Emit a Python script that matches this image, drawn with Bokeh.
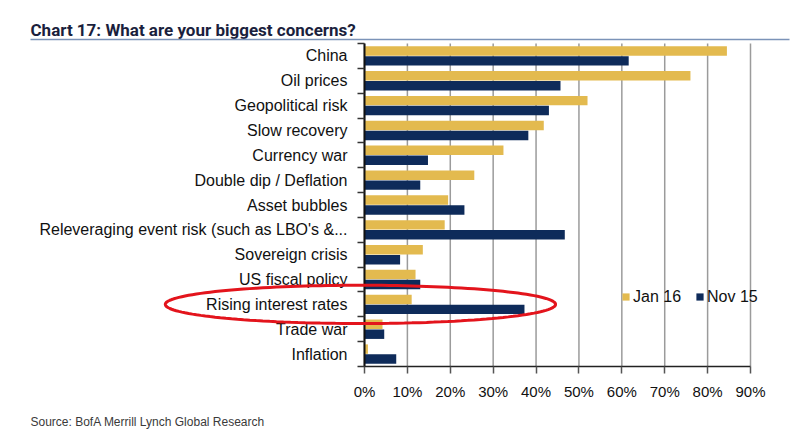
import numpy as np
from bokeh.plotting import figure
from bokeh.models import (Range1d, FixedTicker, Label, BoxAnnotation, PolyAnnotation,
                          Legend, LegendItem, ColumnDataSource)
from bokeh.transform import dodge
from bokeh.embed import file_html
from bokeh.resources import INLINE

# ---------------- data ----------------
categories = [
    "China", "Oil prices", "Geopolitical risk", "Slow recovery", "Currency war",
    "Double dip / Deflation", "Asset bubbles",
    "Releveraging event risk (such as LBO's &...",
    "Sovereign crisis", "US fiscal policy", "Rising interest rates", "Trade war", "Inflation",
]
jan16 = [84.5, 76.0, 52.0, 41.8, 32.4, 25.6, 19.5, 18.7, 13.6, 11.9, 11.0, 4.2, 0.8]
nov15 = [61.6, 45.7, 43.0, 38.2, 14.8, 13.0, 23.3, 46.7, 8.3, 13.0, 37.3, 4.6, 7.4]
series_names = ["Jan 16", "Nov 15"]
x_ticks = [0, 10, 20, 30, 40, 50, 60, 70, 80, 90]
x_tick_labels = ["0%", "10%", "20%", "30%", "40%", "50%", "60%", "70%", "80%", "90%"]
title_text = "Chart 17: What are your biggest concerns?"
source_text = "Source: BofA Merrill Lynch Global Research"
highlight = "Rising interest rates"

# ---------------- layout / style ----------------
W, H = 792, 432
PLOT_L, PLOT_R, PLOT_T, PLOT_B = 364, 750, 43, 366   # pixel box of the bar area
GOLD = "#E3BA4F"
NAVY = "#0E2B5A"
GRID = "#9b9b9b"
FONT = "Liberation Sans"

n = len(categories)
x_max = x_ticks[-1]
px_x = (PLOT_R - PLOT_L) / x_max
px_y = (PLOT_B - PLOT_T) / n
x_range = Range1d(-PLOT_L / px_x, x_max + (W - PLOT_R) / px_x)
y_range = Range1d(n + (H - PLOT_B) / px_y, -PLOT_T / px_y)

centers = [i + 0.5 for i in range(n)]
boundaries = [float(i) for i in range(n + 1)]

src = ColumnDataSource(dict(y=centers, jan=jan16, nov=nov15, cat=categories))

p = figure(width=W, height=H, output_backend="svg", toolbar_location=None, title=None,
           x_range=x_range, y_range=y_range,
           min_border=0, min_border_left=0, min_border_right=0,
           min_border_top=0, min_border_bottom=0)
p.outline_line_color = None
p.background_fill_color = "white"
p.border_fill_color = "white"
p.xgrid.visible = False
p.ygrid.visible = False

# vertical gridlines (behind bars)
p.segment(x0=x_ticks, y0=[0] * len(x_ticks), x1=x_ticks, y1=[n] * len(x_ticks),
          line_color=GRID, line_width=1.5)

r1 = p.hbar(y=dodge("y", -0.2, range=p.y_range), right="jan", left=0, height=0.38,
            source=src, fill_color=GOLD, line_color=None)
r2 = p.hbar(y=dodge("y", 0.2, range=p.y_range), right="nov", left=0, height=0.38,
            source=src, fill_color=NAVY, line_color=None)

# x axis
xax = p.xaxis[0]
xax.fixed_location = n
xax.bounds = (0, x_max)
xax.ticker = FixedTicker(ticks=x_ticks)
xax.major_label_overrides = {t: l for t, l in zip(x_ticks, x_tick_labels)}
xax.axis_line_color = "#222222"
xax.axis_line_width = 1.5
xax.major_tick_line_color = "#555555"
xax.major_tick_line_width = 1.5
xax.major_tick_out = 7
xax.major_tick_in = 0
xax.minor_tick_line_color = None
xax.major_label_standoff = 9
xax.major_label_text_font = FONT
xax.major_label_text_font_size = "15px"
xax.major_label_text_color = "#111111"

# y axis
yax = p.yaxis[0]
yax.fixed_location = 0
yax.bounds = (0, n)
yax.ticker = FixedTicker(ticks=centers, minor_ticks=boundaries)
yax.major_label_overrides = {c: name for c, name in zip(centers, categories)}
yax.axis_line_color = "#111111"
yax.axis_line_width = 2
yax.major_tick_line_color = None
yax.major_tick_out = 0
yax.major_tick_in = 0
yax.minor_tick_line_color = "#333333"
yax.minor_tick_line_width = 1.5
yax.minor_tick_out = 7
yax.minor_tick_in = 0
yax.major_label_standoff = 10
yax.major_label_text_font = FONT
yax.major_label_text_font_size = "16px"
yax.major_label_text_color = "#111111"

# legend
legend = Legend(items=[LegendItem(label=series_names[0], renderers=[r1]),
                       LegendItem(label=series_names[1], renderers=[r2])],
                orientation="horizontal", location=(621, H - 306.5),
                glyph_width=9, glyph_height=9, label_standoff=3, spacing=14,
                padding=0, margin=0, border_line_color=None, background_fill_alpha=0,
                label_text_font=FONT, label_text_font_size="16px", label_text_color="#111111",
                label_height=20)
p.add_layout(legend, "center")

# highlight ellipse around "Rising interest rates"
ELL_CX, ELL_RX, ELL_RY = -0.95, 45.5, 0.77
hy = categories.index(highlight) + 0.5
t = np.linspace(0, 2 * np.pi, 160)
p.add_layout(PolyAnnotation(xs=list(ELL_CX + ELL_RX * np.cos(t)), ys=list(hy + ELL_RY * np.sin(t)),
                            fill_color=None, fill_alpha=0, line_color="#E3141C",
                            line_alpha=1, line_width=3))

# title, underline and source (screen units from the bottom-left corner)
p.add_layout(Label(x=30, y=H - 29, x_units="screen", y_units="screen", text=title_text,
                   text_font="Roboto", text_font_style="bold", text_font_size="17px",
                   text_color="#1B1F3D", text_baseline="alphabetic"))
p.add_layout(BoxAnnotation(left=30, right=789, bottom=H - 39.8, top=H - 38.3,
                           left_units="screen", right_units="screen",
                           bottom_units="screen", top_units="screen",
                           fill_color="#7B93B8", fill_alpha=1, line_color=None))
p.add_layout(Label(x=30, y=H - 421, x_units="screen", y_units="screen", text=source_text,
                   text_font=FONT, text_font_size="12px", text_color="#3a3a3a",
                   text_baseline="alphabetic"))

open("out.html", "w").write(file_html(p, INLINE))
